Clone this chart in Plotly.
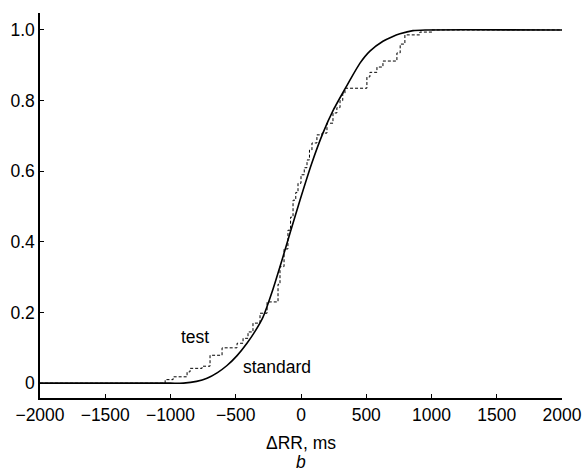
import plotly.graph_objects as go

# Standard (smooth) cumulative distribution
std_x = [-2000, -1000, -900, -800, -720, -640, -567, -490, -414, -350, -291, -220, -146, -80, -8,
         80, 168, 250, 337, 375, 452, 528, 628, 700, 758, 858, 950, 2000]
std_y = [0, 0, 0, 0.005, 0.014, 0.03, 0.05, 0.078, 0.113, 0.148, 0.187, 0.26, 0.348, 0.43, 0.518,
         0.62, 0.708, 0.775, 0.833, 0.858, 0.906, 0.940, 0.968, 0.981, 0.989, 0.998, 1.0, 1.0]

# Test (empirical step) cumulative distribution
test_x = [-2000, -1041, -980, -873, -850, -758, -697, -605, -490, -444, -406, -368, -314, -260, -176,
          -161, -130, -100, -80, -61, -40, -23, 0, 25, 46, 65, 84, 122, 161, 199, 245, 275, 299, 320,
          337, 505, 528, 582, 628, 735, 760, 796, 911, 1003, 2000]
test_y = [0, 0.01, 0.018, 0.032, 0.042, 0.048, 0.079, 0.10, 0.113, 0.127, 0.145, 0.17, 0.198, 0.23, 0.28,
          0.33, 0.38, 0.433, 0.47, 0.518, 0.54, 0.566, 0.59, 0.61, 0.632, 0.66, 0.68, 0.703, 0.708, 0.736,
          0.765, 0.78, 0.80, 0.82, 0.835, 0.867, 0.88, 0.895, 0.912, 0.935, 0.96, 0.986, 0.994, 1.0, 1.0]

x_ticks = [-2000, -1500, -1000, -500, 0, 500, 1000, 1500, 2000]
x_ticktext = ["\u22122000", "\u22121500", "\u22121000", "\u2212500", "0", "500", "1000", "1500", "2000"]
y_ticks = [0, 0.2, 0.4, 0.6, 0.8, 1.0]
y_ticktext = ["0", "0.2", "0.4", "0.6", "0.8", "1.0"]

FONT = "Liberation Sans, Arial, sans-serif"
FS = 17.5

fig = go.Figure()
fig.add_trace(go.Scatter(x=test_x, y=test_y, mode="lines", line_shape="hv",
                         line=dict(color="black", width=1, dash="3px,2px"), showlegend=False))
fig.add_trace(go.Scatter(x=std_x, y=std_y, mode="lines", line_shape="spline",
                         line=dict(color="black", width=1.6, smoothing=0.5), showlegend=False))

fig.add_annotation(x=-812, y=0.13, text="test", showarrow=False,
                   font=dict(family=FONT, size=FS, color="black"))
fig.add_annotation(x=-184, y=0.045, text="standard", showarrow=False,
                   font=dict(family=FONT, size=FS, color="black"))
fig.add_annotation(x=0.5, y=-0.117, xref="paper", yref="paper", text="\u0394RR, ms", showarrow=False,
                   font=dict(family=FONT, size=FS, color="black"), yanchor="middle")
fig.add_annotation(x=0.5, y=-0.166, xref="paper", yref="paper", text="<i>b</i>", showarrow=False,
                   font=dict(family=FONT, size=FS, color="black"), yanchor="middle")

fig.update_layout(
    width=586, height=475,
    margin=dict(l=40, r=24, t=13, b=77),
    plot_bgcolor="white", paper_bgcolor="white",
    font=dict(family=FONT, size=FS, color="black"),
    xaxis=dict(range=[-2000, 2000], tickvals=x_ticks, ticktext=x_ticktext, automargin=False,
               ticks="inside", ticklen=4, tickcolor="black", showline=True, linecolor="black",
               linewidth=1.5, showgrid=False, zeroline=False, mirror=False),
    yaxis=dict(range=[-0.042, 1.048], tickvals=y_ticks, ticktext=y_ticktext, automargin=False,
               ticks="inside", ticklen=4, tickcolor="black", showline=True, linecolor="black",
               linewidth=1.5, showgrid=False, zeroline=False, mirror=False),
)

fig.write_html("out.html")
